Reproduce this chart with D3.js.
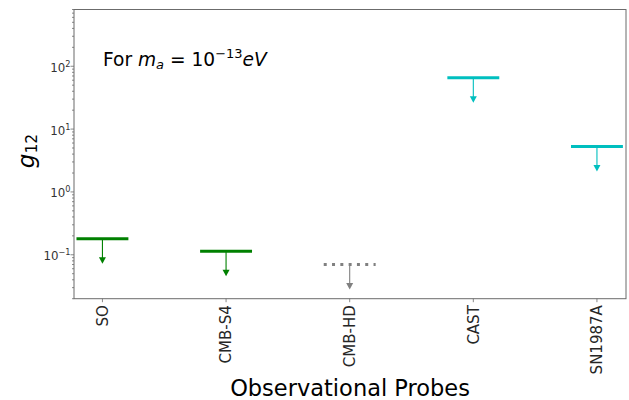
<!DOCTYPE html>
<html>
<head>
<meta charset="utf-8">
<script src="https://cdn.jsdelivr.net/npm/d3@7"></script>
<style>
  html, body { margin: 0; padding: 0; background: #fff; }
  svg { display: block; font-family: "DejaVu Sans", sans-serif; }
</style>
</head>
<body>
<svg id="chart" width="629" height="400"></svg>
<script>
// ---- data ----
const categories = ["SO", "CMB-S4", "CMB-HD", "CAST", "SN1987A"];
const limits = [0.18, 0.114, 0.070, 65.6, 5.3];   // upper limits on g_12
const projected = [false, false, true, false, false]; // CMB-HD shown dotted
const yTickValues = [0.1, 1, 10, 100];
const yTickExponents = ["−1", "0", "1", "2"];
const xLabel = "Observational Probes";

// ---- styles ----
const colors = ["#008000", "#008000", "#808080", "#00bfbf", "#00bfbf"];

const svg = d3.select("#chart");
const m = { left: 74, right: 626, top: 9.5, bottom: 298.7 };

const x = d3.scaleLinear().domain([-0.23, 4.235]).range([m.left, m.right]);
const y = d3.scaleLog().domain([0.02, 800]).range([m.bottom, m.top]);
const halfW = 0.21;
const arrowFactor = 2.5;

// frame
svg.append("rect")
  .attr("x", m.left).attr("y", m.top)
  .attr("width", m.right - m.left).attr("height", m.bottom - m.top)
  .attr("fill", "none").attr("stroke", "#6b6b6b").attr("stroke-width", 1);

// y axis ticks (major + minor)
const yAxis = svg.append("g").attr("transform", `translate(${m.left},0)`);
const minor = [];
for (let e = -2; e <= 2; e++) for (let k = 2; k <= 9; k++) {
  const v = k * Math.pow(10, e);
  if (v >= 0.02 && v <= 800) minor.push(v);
}
yAxis.selectAll("line.minor").data(minor).join("line")
  .attr("x1", -2).attr("x2", 0)
  .attr("y1", d => y(d)).attr("y2", d => y(d))
  .attr("stroke", "#6b6b6b").attr("stroke-width", 0.8);
yAxis.selectAll("line.major").data(yTickValues).join("line")
  .attr("x1", -3.5).attr("x2", 0)
  .attr("y1", d => y(d)).attr("y2", d => y(d))
  .attr("stroke", "#6b6b6b").attr("stroke-width", 0.8);
const ylab = yAxis.selectAll("text.yt").data(yTickValues).join("text")
  .attr("x", -3.5).attr("y", d => y(d) + 5.5)
  .attr("text-anchor", "end").attr("fill", "#333")
  .attr("font-size", 11.8);
ylab.each(function(d, i) {
  const t = d3.select(this);
  t.append("tspan").text("10");
  t.append("tspan").attr("dy", -5).attr("font-size", 8.2).text(yTickExponents[i]);
});

// x axis ticks
const xAxis = svg.append("g");
xAxis.selectAll("line").data(categories).join("line")
  .attr("x1", (d, i) => x(i)).attr("x2", (d, i) => x(i))
  .attr("y1", m.bottom).attr("y2", m.bottom + 3.5)
  .attr("stroke", "#6b6b6b").attr("stroke-width", 0.8);
xAxis.selectAll("text").data(categories).join("text")
  .attr("transform", (d, i) => `translate(${x(i)},${m.bottom + 6.5}) rotate(-90)`)
  .attr("text-anchor", "end").attr("dy", "0.36em")
  .attr("font-size", 15).attr("fill", "#262626")
  .text(d => d);

// limit bars
const marks = svg.append("g");
categories.forEach((c, i) => {
  const v = limits[i];
  marks.append("line")
    .attr("x1", x(i - halfW)).attr("x2", x(i + halfW))
    .attr("y1", y(v)).attr("y2", y(v))
    .attr("stroke", colors[i]).attr("stroke-width", 3)
    .attr("stroke-dasharray", projected[i] ? "3,5.3" : null);
  const tipY = y(v / arrowFactor);
  marks.append("line")
    .attr("x1", x(i)).attr("x2", x(i))
    .attr("y1", y(v)).attr("y2", tipY - 5)
    .attr("stroke", colors[i]).attr("stroke-width", 1.1);
  marks.append("path")
    .attr("d", `M${x(i) - 3.5},${tipY - 6.5} L${x(i) + 3.5},${tipY - 6.5} L${x(i)},${tipY} Z`)
    .attr("fill", colors[i]);
});

// annotation
const ann = svg.append("text").attr("x", 103).attr("y", 65.7)
  .attr("font-size", 18.6).attr("fill", "#000");
ann.append("tspan").text("For ");
ann.append("tspan").attr("font-style", "italic").text("m");
ann.append("tspan").attr("font-style", "italic").attr("font-size", 13).attr("dy", 3.5).text("a");
ann.append("tspan").attr("dy", -3.5).text(" = 10");
ann.append("tspan").attr("font-size", 13).attr("dy", -7.5).text("−13");
ann.append("tspan").attr("font-style", "italic").attr("dy", 7.5).text("eV");

// y label
const yl = svg.append("text")
  .attr("transform", "translate(34,151) rotate(-90)")
  .attr("text-anchor", "middle").attr("fill", "#000");
yl.append("tspan").attr("font-style", "italic").attr("font-size", 23).text("g");
yl.append("tspan").attr("font-size", 15.5).attr("dy", 2.7).text("12");

// x label
svg.append("text")
  .attr("x", 350).attr("y", 396)
  .attr("text-anchor", "middle").attr("font-size", 22.5).attr("fill", "#000")
  .text(xLabel);
</script>
</body>
</html>
